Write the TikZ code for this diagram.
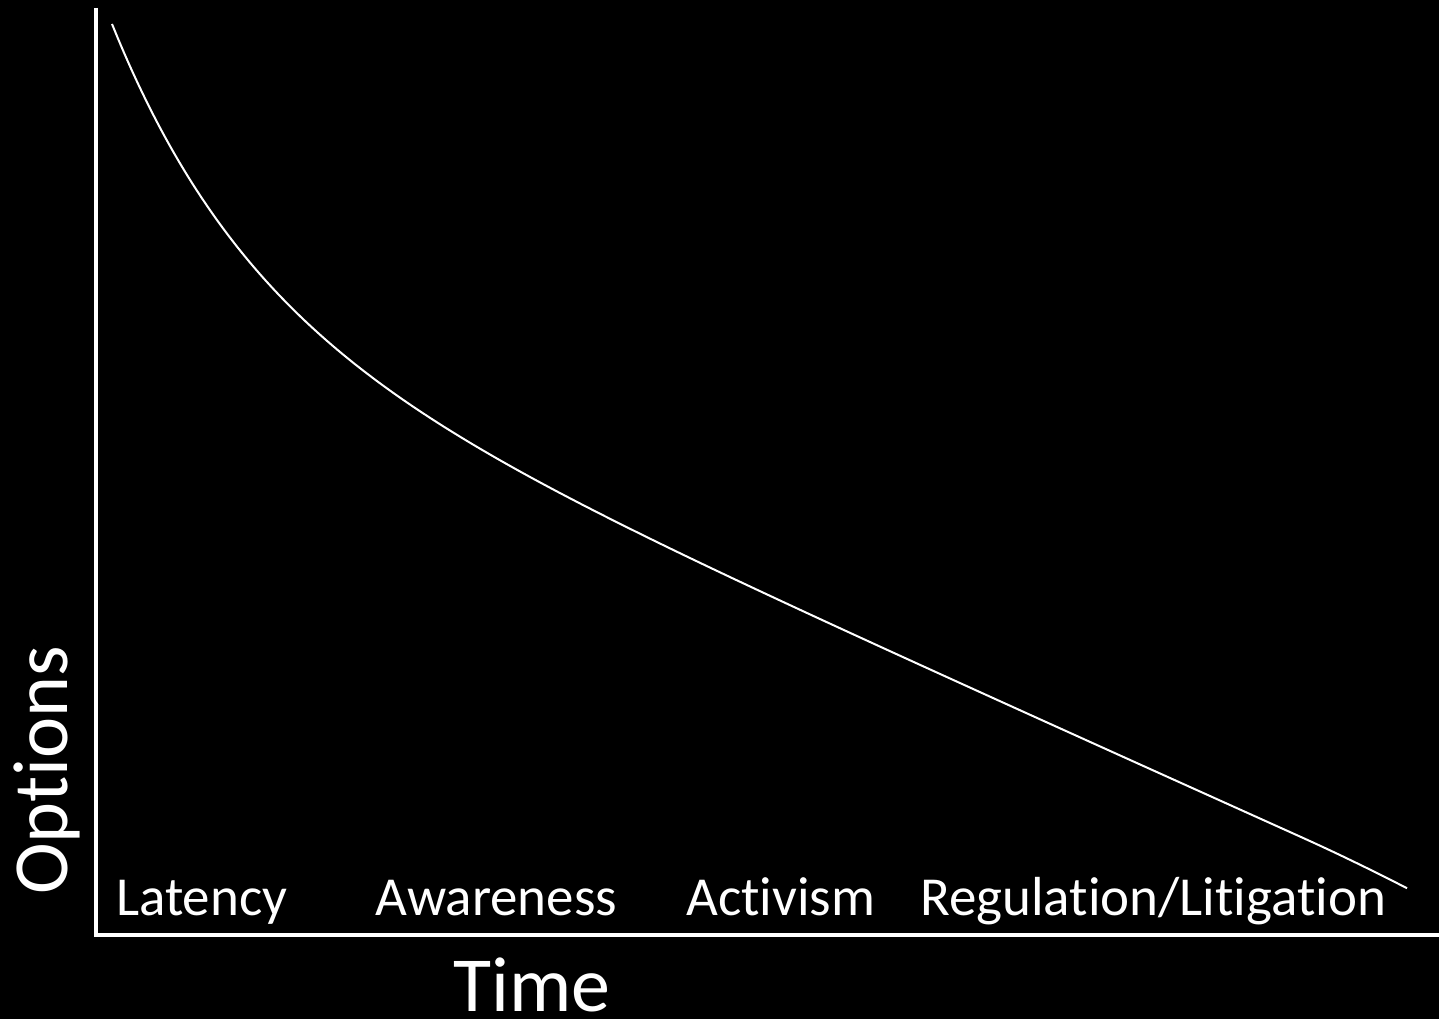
\documentclass[tikz,border=0pt]{standalone}
\usepackage{fontspec}
\setmainfont[Ligatures={NoCommon}]{Carlito}
\begin{document}
\begin{tikzpicture}[x=1pt,y=-1pt,
  axis/.style={white,line width=4pt},
  curve/.style={white,line width=2pt},
  phase/.style={text=white,inner sep=0pt,anchor=base west,font=\fontsize{55}{60}\selectfont},
  axlabel/.style={text=white,inner sep=0pt,anchor=base west,font=\fontsize{78}{82}\selectfont}]
\fill[black] (0,0) rectangle (1439,1019);
\useasboundingbox (0,0) rectangle (1439,1019);
\coordinate (top) at (96,8);
\coordinate (bottom) at (96,937);
\coordinate (left) at (94,935);
\coordinate (right) at (1439,935);
\draw[axis] (top) -- (bottom);
\draw[axis] (left) -- (right);
\draw[curve] plot[domain=112:1407,samples=220,smooth]
  (\x,{24+0.45*(\x-112)+278*(1-exp(-(\x-112)/137))+0.0003*(max(\x-1300,0))^2});
\node[phase] (lat) at (116,915) {Latency};
\node[phase] (awa) at (375,915) {Awareness};
\node[phase] (act) at (686,915) {Activism};
\node[phase] (reg) at (920,915) {Regulation/Litigation};
\node[axlabel] (time) at (453,1011) {Time};
\node[axlabel,rotate=90] (opt) at (67,895) {Options};
\end{tikzpicture}
\end{document}
